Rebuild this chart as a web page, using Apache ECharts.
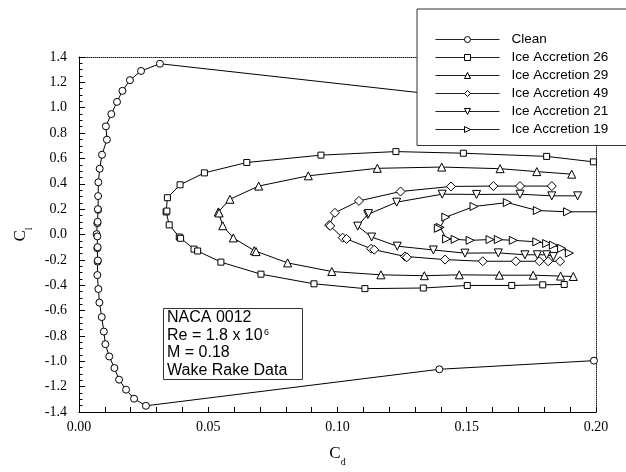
<!DOCTYPE html>
<html>
<head>
<meta charset="utf-8">
<script src="https://cdn.jsdelivr.net/npm/echarts@6/dist/echarts.min.js"></script>
<style>
  html, body { margin: 0; padding: 0; background: #fff; }
  #main { width: 626px; height: 472px; }
</style>
</head>
<body>
<div id="main"></div>
<script>
// drag polars: Cd (x) and Cl (y), one pair of arrays per run
var cleanCd = [0.1992, 0.1400, 0.0313, 0.0240, 0.0197, 0.0168, 0.0147, 0.0125, 0.0104, 0.0108, 0.0089, 0.0080, 0.0075, 0.0074, 0.0074, 0.0073, 0.0071, 0.0072, 0.0068, 0.0071, 0.0071, 0.0072, 0.0072, 0.0073, 0.0071, 0.0075, 0.0079, 0.0088, 0.0096, 0.0102, 0.0117, 0.0137, 0.0155, 0.0182, 0.0213, 0.0259, 0.1394, 0.1992];
var cleanCl = [1.02, 1.10, 1.347, 1.29, 1.217, 1.133, 1.046, 0.95, 0.853, 0.748, 0.629, 0.519, 0.412, 0.303, 0.194, 0.200, 0.089, 0.100, 0.003, -0.015, -0.109, -0.100, -0.214, -0.205, -0.32, -0.43, -0.537, -0.651, -0.766, -0.865, -0.962, -1.053, -1.145, -1.224, -1.295, -1.351, -1.063, -0.995];

var ice26Cd = [0.1990, 0.1809, 0.1487, 0.1226, 0.0936, 0.0649, 0.0485, 0.0391, 0.0342, 0.0337, 0.0340, 0.0349, 0.0388, 0.0393, 0.0445, 0.0459, 0.0549, 0.0704, 0.0909, 0.1106, 0.1332, 0.1502, 0.1674, 0.1794, 0.1877];
var ice26Cl = [0.573, 0.616, 0.641, 0.654, 0.626, 0.568, 0.486, 0.392, 0.290, 0.178, 0.185, 0.076, -0.020, -0.030, -0.115, -0.130, -0.218, -0.313, -0.389, -0.427, -0.422, -0.402, -0.402, -0.397, -0.394];

var ice29Cd = [0.1906, 0.1771, 0.1629, 0.1403, 0.1154, 0.0887, 0.0695, 0.0584, 0.0539, 0.0542, 0.0556, 0.0597, 0.0678, 0.0685, 0.0807, 0.0978, 0.1168, 0.1336, 0.1471, 0.1626, 0.1757, 0.1863, 0.1912];
var ice29Cl = [0.476, 0.496, 0.519, 0.532, 0.522, 0.463, 0.382, 0.278, 0.178, 0.170, 0.069, -0.027, -0.127, -0.135, -0.224, -0.292, -0.318, -0.325, -0.318, -0.321, -0.321, -0.328, -0.331];

var ice49Cd = [0.1829, 0.1706, 0.1603, 0.1439, 0.1244, 0.1083, 0.0990, 0.0968, 0.0972, 0.1020, 0.1035, 0.1130, 0.1142, 0.1261, 0.1268, 0.1416, 0.1562, 0.1690, 0.1781, 0.1815, 0.1861];
var ice49Cl = [0.382, 0.382, 0.382, 0.379, 0.339, 0.265, 0.171, 0.074, 0.068, -0.025, -0.035, -0.112, -0.120, -0.173, -0.180, -0.198, -0.211, -0.211, -0.211, -0.211, -0.211];

var ice21Cd = [0.1929, 0.1829, 0.1706, 0.1538, 0.1405, 0.1229, 0.1117, 0.1120, 0.1078, 0.1132, 0.1231, 0.1371, 0.1493, 0.1622, 0.1725, 0.1773, 0.1809, 0.1835];
var ice21Cl = [0.305, 0.305, 0.318, 0.316, 0.318, 0.255, 0.158, 0.165, 0.066, -0.020, -0.092, -0.122, -0.147, -0.145, -0.160, -0.160, -0.160, -0.173];

var ice19Cd = [0.2150, 0.1890, 0.1773, 0.1657, 0.1528, 0.1419, 0.1397, 0.1390, 0.1422, 0.1455, 0.1513, 0.1590, 0.1622, 0.1680, 0.1771, 0.1809, 0.1835, 0.1867, 0.1897];
var ice19Cl = [0.179, 0.179, 0.189, 0.252, 0.221, 0.137, 0.056, 0.049, -0.035, -0.038, -0.046, -0.040, -0.040, -0.046, -0.058, -0.071, -0.084, -0.109, -0.147];

var seriesNames = ['Clean', 'Ice Accretion 26', 'Ice Accretion 29', 'Ice Accretion 49', 'Ice Accretion 21', 'Ice Accretion 19'];

function pairs(xs, ys) {
  var out = [];
  for (var i = 0; i < xs.length; i++) out.push([xs[i], ys[i]]);
  return out;
}

function run(name, xs, ys, symbol, size, rotate) {
  return {
    name: name,
    type: 'line',
    data: pairs(xs, ys),
    symbol: symbol,
    symbolSize: size,
    symbolRotate: rotate || 0,
    showAllSymbol: true,
    clip: true,
    lineStyle: { color: '#000', width: 1 },
    itemStyle: { color: '#fff', borderColor: '#000', borderWidth: 1 },
    emphasis: { disabled: true }
  };
}

var serif = '"Liberation Serif", "Times New Roman", serif';
var sans = '"Liberation Sans", Arial, sans-serif';

var myChart = echarts.init(document.getElementById('main'));
var option = {
  animation: false,
  backgroundColor: '#fff',
  grid: { left: 79, right: 30, top: 57, bottom: 48 },
  legend: {
    orient: 'vertical',
    left: 417,
    top: 9,
    padding: [23.5, 20, 9, 18],
    itemWidth: 64,
    itemHeight: 7.5,
    itemGap: 4,
    backgroundColor: '#fff',
    borderColor: '#333',
    borderWidth: 1,
    selectedMode: false,
    lineStyle: { width: 1, color: '#222' },
    itemStyle: { borderWidth: 1 },
    textStyle: { fontFamily: sans, fontSize: 13.5, lineHeight: 13, color: '#000', padding: [0, 0, 0, 7] },
    data: seriesNames
  },
  xAxis: [{
    type: 'value',
    min: 0,
    max: 0.2,
    interval: 0.05,
    name: '{a|C}{b|d}',
    nameLocation: 'middle',
    nameGap: 32,
    nameTextStyle: {
      rich: {
        a: { fontFamily: serif, fontSize: 17, color: '#000', lineHeight: 20, verticalAlign: 'middle' },
        b: { fontFamily: serif, fontSize: 10, color: '#000', lineHeight: 20, verticalAlign: 'bottom', padding: [0, 0, -3, 0] }
      }
    },
    axisLine: { onZero: false, lineStyle: { color: '#000', width: 1 } },
    axisTick: { inside: true, length: 5, lineStyle: { color: '#000' } },
    minorTick: { show: true, splitNumber: 5, length: 5, lineStyle: { color: '#000' } },
    splitLine: { show: false },
    axisLabel: {
      margin: 8, fontFamily: serif, fontSize: 14, color: '#000',
      formatter: function (v) { return v.toFixed(2); }
    }
  }, {
    type: 'value',
    position: 'top',
    min: 0,
    max: 0.2,
    axisLine: { show: true, onZero: false, lineStyle: { color: '#222', width: 1, type: [1, 1] } },
    axisTick: { show: false },
    axisLabel: { show: false },
    splitLine: { show: false }
  }],
  yAxis: [{
    type: 'value',
    min: -1.4,
    max: 1.4,
    interval: 0.2,
    name: '{a|C}{b|l}',
    nameLocation: 'middle',
    nameGap: 46,
    nameRotate: 90,
    nameTextStyle: {
      rich: {
        a: { fontFamily: serif, fontSize: 17, color: '#000', lineHeight: 20, verticalAlign: 'middle' },
        b: { fontFamily: serif, fontSize: 10, color: '#000', lineHeight: 20, verticalAlign: 'bottom', padding: [0, 0, -3, 0] }
      }
    },
    axisLine: { show: true, onZero: false, lineStyle: { color: '#000', width: 1 } },
    axisTick: { inside: true, length: 6, lineStyle: { color: '#000' } },
    minorTick: { show: true, splitNumber: 4, length: 3.5, lineStyle: { color: '#000' } },
    splitLine: { show: false },
    axisLabel: {
      margin: 12, fontFamily: serif, fontSize: 14, color: '#000',
      formatter: function (v) { return v.toFixed(1); }
    }
  }, {
    type: 'value',
    position: 'right',
    min: -1.4,
    max: 1.4,
    axisLine: { show: true, onZero: false, lineStyle: { color: '#222', width: 1, type: [1, 1] } },
    axisTick: { show: false },
    axisLabel: { show: false },
    splitLine: { show: false }
  }],
  series: [
    run(seriesNames[0], cleanCd, cleanCl, 'circle', 7),
    run(seriesNames[1], ice26Cd, ice26Cl, 'rect', 6),
    run(seriesNames[2], ice29Cd, ice29Cl, 'triangle', 8),
    run(seriesNames[3], ice49Cd, ice49Cl, 'diamond', 9),
    run(seriesNames[4], ice21Cd, ice21Cl, 'triangle', 8, 180),
    run(seriesNames[5], ice19Cd, ice19Cl, 'triangle', 8, -90)
  ],
  graphic: [
    { type: 'rect', z: 10, shape: { x: 163.5, y: 308.5, width: 139, height: 71 },
      style: { fill: '#fff', stroke: '#333', lineWidth: 1 } },
    { type: 'text', z: 11, x: 167, y: 318, style: { text: 'NACA 0012', font: '16px ' + sans, fill: '#000', verticalAlign: 'middle' } },
    { type: 'text', z: 11, x: 167, y: 335.5, style: { text: 'Re = 1.8 x 10', font: '16px ' + sans, fill: '#000', verticalAlign: 'middle' } },
    { type: 'text', z: 11, x: 264, y: 333, style: { text: '6', font: '9px ' + sans, fill: '#000', verticalAlign: 'middle' } },
    { type: 'text', z: 11, x: 167, y: 353, style: { text: 'M = 0.18', font: '16px ' + sans, fill: '#000', verticalAlign: 'middle' } },
    { type: 'text', z: 11, x: 167, y: 370.5, style: { text: 'Wake Rake Data', font: '16px ' + sans, fill: '#000', verticalAlign: 'middle' } }
  ]
};
myChart.setOption(option);
</script>
</body>
</html>
